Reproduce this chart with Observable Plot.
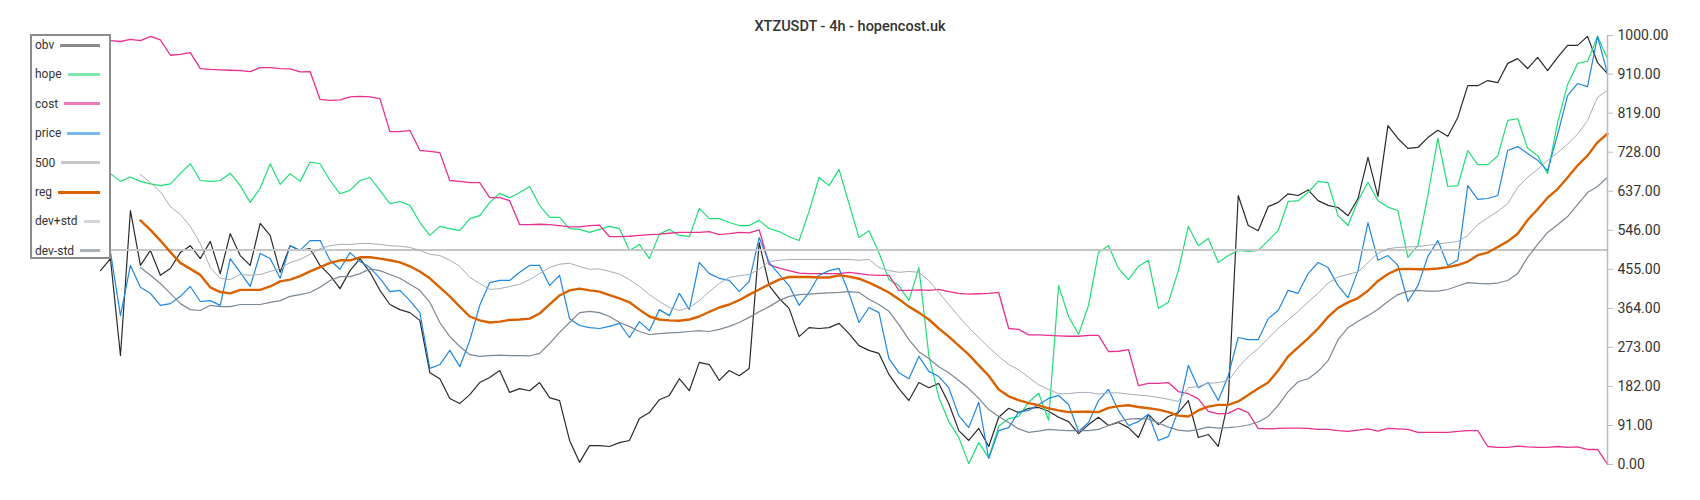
<!DOCTYPE html>
<html><head><meta charset="utf-8">
<script src="https://cdn.jsdelivr.net/npm/d3@7"></script>
<script src="https://cdn.jsdelivr.net/npm/@observablehq/plot@0.6"></script>
<style>
html,body{margin:0;padding:0;background:#fff;}
#wrap{position:relative;width:1700px;height:500px;font-family:Roboto,sans-serif;}
#legend{position:absolute;left:30px;top:34px;width:77px;height:221px;border:2px solid #8c8c8c;background:#fff;}
.item{position:absolute;left:3px;right:9px;height:16px;display:flex;align-items:center;font-size:12px;color:#333;}
.item .sw{flex:1;margin-left:6px;height:0;border-top-style:solid;}
</style></head>
<body><div id="wrap"><div id="chart"></div><div id="legend"></div></div>
<script>
const title = "XTZUSDT - 4h - hopencost.uk";
const labels = ["obv","hope","cost","price","500","reg","dev+std","dev-std"];
const yTicks = [0,91,182,273,364,455,546,637,728,819,910,1000];
const level = 500;

const obv = [452,480,254,592,464,499,441,457,494,510, 480,520,445,538,487,464,562,534,448,510,
 499,503,464,441,410,452,480,448,406,373, 361,354,336,214,200,154,142,163,191,203,
 219,168,177,172,191,156,149,56,5,44, 44,42,51,56,107,121,151,161,200,172,
 238,233,196,219,207,224,517,417,387,364, 298,319,317,319,329,305,277,266,259,210,
 177,149,191,179,189,142,79,56,84,42, 110,131,121,131,133,124,110,100,72,93,
 110,91,98,86,63,117,93,112,121,149, 63,70,42,149,627,557,545,601,611,631,
 627,640,615,604,599,580,620,716,625,790, 760,737,739,762,779,765,809,883,883,895,
 890,935,946,923,949,918,949,977,977,998, 937,911];

const hope = [681,678,660,670,660,654,650,654,678,701, 662,660,662,679,650,611,644,701,653,678,
 660,705,701,662,631,639,662,669,639,608, 613,604,564,534,555,550,545,573,580,611,
 632,622,634,648,604,576,576,550,548,541, 548,555,550,499,513,480,537,548,534,531,
 597,573,573,564,557,557,569,550,543,531, 522,590,669,650,688,608,529,545,494,431,
 417,382,459,254,156,100,63,2,51,16, 89,107,112,145,166,103,417,345,303,371,
 495,510,457,431,462,476,364,378,452,555, 510,527,471,487,499,497,499,522,545,613,
 615,634,660,657,580,557,615,658,615,600, 592,483,510,627,760,648,650,732,699,699,
 719,802,806,737,720,678,797,886,935,940, 998,946];

const cost = [988,988,986,991,988,998,990,954,956,960, 923,921,920,919,918,916,925,925,923,922,
 915,916,851,849,850,857,858,857,853,776, 776,779,732,730,727,662,660,657,657,622,
 622,615,559,559,560,559,557,554,554,557, 558,531,531,532,534,536,537,539,541,541,
 541,543,536,538,541,540,547,466,458,452, 446,445,445,445,445,448,445,442,441,441,
 406,406,407,406,408,403,399,397,398,399, 401,317,315,302,302,301,300,299,299,301,
 301,263,264,268,184,189,189,191,170,165, 153,124,118,119,131,121,84,83,84,85,
 85,84,82,82,79,77,80,83,78,84, 83,82,75,75,75,75,77,79,79,42,
 40,40,43,41,40,40,42,40,41,35, 35,1];

const price = [499,495,347,464,413,399,371,375,392,415, 380,382,371,480,448,415,492,480,434,510,
 499,522,522,476,455,494,473,459,434,403, 406,382,354,224,233,266,228,289,371,424,
 429,429,448,464,464,417,441,340,324,319, 317,322,329,296,333,312,361,347,399,361,
 471,445,434,429,403,427,529,471,443,417, 371,401,441,452,457,399,331,366,354,247,
 214,200,252,217,205,179,114,86,145,14, 79,86,122,126,140,154,161,140,77,98,
 149,175,126,91,100,117,56,65,126,231, 179,191,149,207,296,291,291,340,359,406,
 399,445,471,459,417,389,452,564,476,487, 464,380,417,485,522,464,476,650,618,620,
 627,732,741,725,709,685,769,860,888,881, 998,911];

const reg = [null,null,null,null,569,547,522,495,470,456, 442,413,402,399,407,407,407,415,427,431,
 439,450,460,470,476,476,483,483,480,476, 471,462,450,434,413,392,368,345,336,331,
 333,337,338,340,352,373,394,406,410,406, 403,395,387,378,361,345,338,336,335,338,
 345,356,366,373,383,396,408,420,431,437, 437,437,436,436,441,438,433,424,413,401,
 385,368,354,338,317,298,277,256,231,207, 175,159,150,143,138,131,126,122,123,123,
 122,132,136,138,134,131,128,122,114,112, 126,135,139,139,147,162,177,191,219,252,
 273,294,317,344,365,378,388,405,428,444, 455,456,455,455,457,460,465,473,488,494,
 507,520,538,570,595,622,642,669,697,720, 751,771];

const devUp = [null,null,null,null,676,657,636,601,583,555, 515,459,434,431,443,441,443,450,457,471,
 478,490,503,510,513,513,515,515,513,510, 509,506,499,490,487,476,462,436,422,408,
 410,415,420,431,445,459,467,469,462,455, 456,450,444,431,415,396,380,366,359,366,
 382,403,422,436,440,443,455,473,476,478, 478,478,478,478,478,478,476,478,459,452,
 448,450,448,429,401,373,345,319,296,273, 252,233,221,203,186,175,165,165,168,168,
 164,167,167,164,162,160,156,152,147,179, 182,189,191,195,226,251,270,294,317,337,
 357,379,399,423,437,443,449,471,492,503, 506,507,508,511,514,517,520,534,559,575,
 590,608,646,670,688,709,727,747,770,802, 856,872];

const devDn = [null,null,null,null,459,441,422,399,375,361, 359,371,368,368,373,373,373,378,382,392,
 396,401,413,429,438,438,445,456,452,443, 434,420,406,378,331,298,275,256,252,254,
 255,254,254,253,259,282,308,331,354,357, 354,345,331,322,310,303,305,307,308,310,
 312,310,315,322,331,343,356,368,382,392, 396,397,399,400,401,403,401,385,373,357,
 326,291,263,247,228,214,196,177,154,128, 112,98,83,75,78,82,80,79,79,79,
 82,91,100,106,107,106,97,87,80,78, 82,87,85,86,88,92,99,112,138,170,
 193,200,217,242,291,319,334,347,362,380, 396,404,406,404,404,408,416,424,422,421,
 423,429,445,483,513,541,559,578,606,634, 648,670];

const N = obv.length;
const idx = (d, i) => i;
const val = d => d;

const styles = {
  "obv":     {stroke:"#2b2b2b", w:1.2, key:"#8a8a8a"},
  "hope":    {stroke:"#1fdd74", w:1.2, key:"#7de8a9"},
  "cost":    {stroke:"#e8308d", w:1.3, key:"#ee79b8"},
  "price":   {stroke:"#1f87e0", w:1.2, key:"#7ab8ee"},
  "500":     {stroke:"#c6c6c6", w:2,   key:"#c8c8c8"},
  "reg":     {stroke:"#d96200", w:2.4, key:"#d96200"},
  "dev+std": {stroke:"#a4adb6", w:1,   key:"#d0d6dc"},
  "dev-std": {stroke:"#7b8895", w:1.2, key:"#a8b0b8"}
};
const lineOf = (data, name) => Plot.line(data, {x: idx, y: val, stroke: styles[name].stroke, strokeWidth: styles[name].w});

const chart = Plot.plot({
  width: 1700, height: 500,
  marginLeft: 100, marginRight: 93, marginTop: 35, marginBottom: 36,
  style: {fontFamily: "Roboto, sans-serif", background: "#fff"},
  x: {domain: [0, N - 1], axis: null},
  y: {domain: [0, 1000]},
  marks: [
    lineOf(obv, "obv"),
    lineOf(hope, "hope"),
    lineOf(cost, "cost"),
    lineOf(price, "price"),
    Plot.ruleY([level], {stroke: styles["500"].stroke, strokeWidth: styles["500"].w}),
    lineOf(reg, "reg"),
    lineOf(devUp, "dev+std"),
    lineOf(devDn, "dev-std"),
    Plot.ruleX([N - 1], {y1: 0, y2: 1000, stroke: "#b3bdc6", strokeWidth: 1.5}),
    Plot.axisY(yTicks, {anchor: "right", label: null, tickSize: 5, tickPadding: 5, fontSize: 14,
      stroke: "#b3bdc6", fill: "#333", tickFormat: d => d.toFixed(2)}),
    Plot.text([title], {text: d => d, frameAnchor: "top", dy: -15, dx: -4, fontSize: 14.5, fontWeight: 500, fill: "#333"})
  ]
});
document.getElementById("chart").appendChild(chart);

const legend = document.getElementById("legend");
labels.forEach((name, k) => {
  const it = document.createElement("div");
  it.className = "item";
  it.style.top = (9 + 29.4 * k - 8) + "px";
  const t = document.createElement("span");
  t.textContent = name;
  const sw = document.createElement("div");
  sw.className = "sw";
  sw.style.borderTopColor = styles[name].key;
  sw.style.borderTopWidth = "3px";
  it.appendChild(t); it.appendChild(sw);
  legend.appendChild(it);
});
</script>
</body></html>
